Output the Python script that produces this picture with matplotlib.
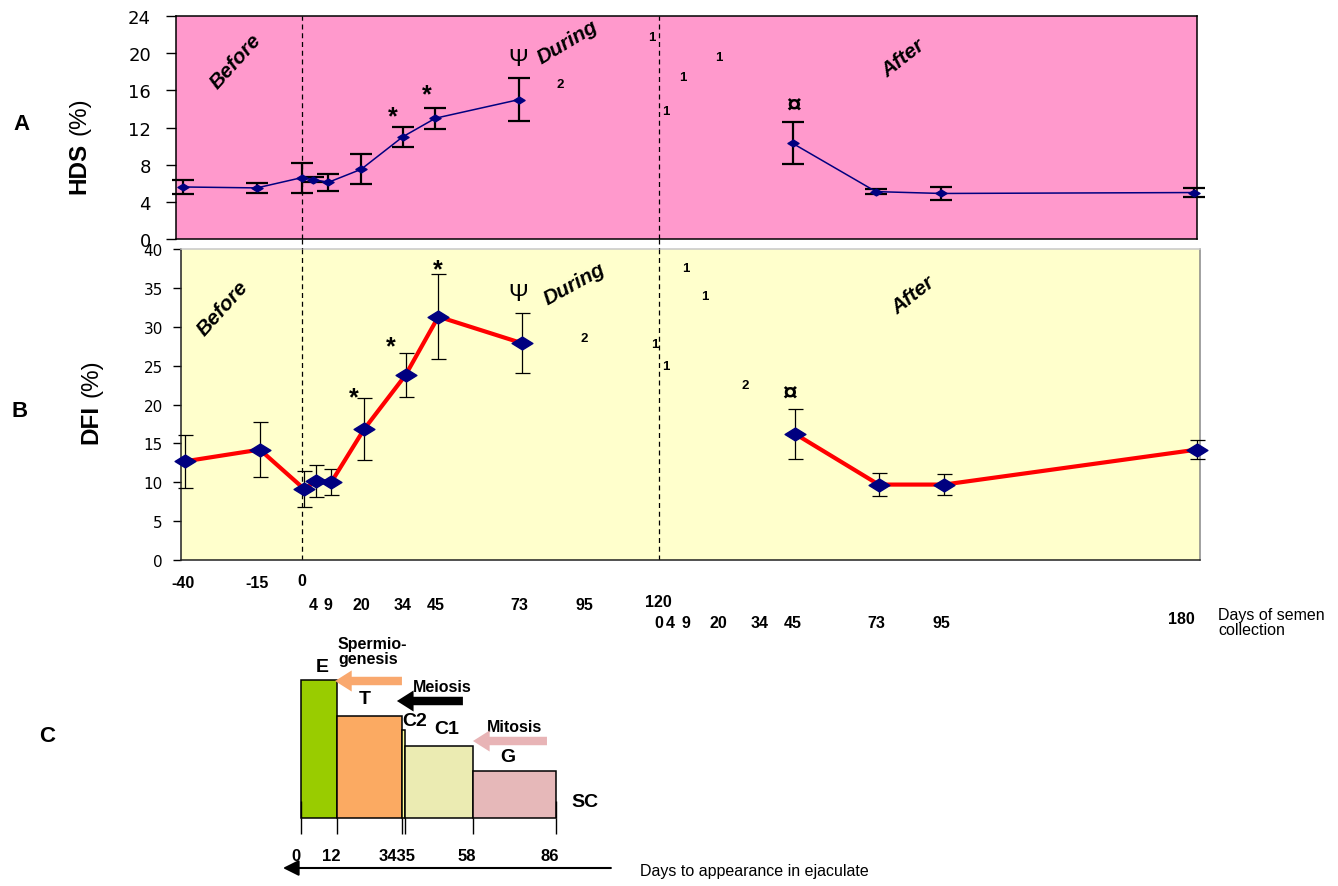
import matplotlib
matplotlib.use("Agg")
import matplotlib.pyplot as plt
import matplotlib.transforms as mtransforms
from matplotlib.path import Path
from matplotlib.lines import Line2D

plt.rcParams["font.family"] = ["Liberation Sans", "DejaVu Sans"]

# ---------------------------------------------------------------- data
TREAT_END = 120                      # last day of treatment = day 0 "after"

before_days = [-40, -15]
during_days = [0, 4, 9, 20, 34, 45, 73]
after_days = [45, 73, 95, 180]

hds_before = [5.6, 5.5]
hds_before_err = [0.75, 0.5]
hds_during = [6.6, 6.4, 6.1, 7.5, 11.0, 13.0, 15.0]
hds_during_err = [1.6, 0.3, 0.9, 1.6, 1.1, 1.15, 2.3]
hds_after = [10.3, 5.1, 4.9, 5.0]
hds_after_err = [2.25, 0.3, 0.65, 0.5]

dfi_before = [12.7, 14.2]
dfi_before_err = [3.4, 3.5]
dfi_during = [9.1, 10.2, 10.0, 16.8, 23.8, 31.3, 27.9]
dfi_during_err = [2.3, 2.05, 1.7, 4.0, 2.85, 5.5, 3.9]
dfi_after = [16.2, 9.7, 9.7, 14.2]
dfi_after_err = [3.2, 1.5, 1.4, 1.2]

row1_days = [-40, -15, 0]
row2_days = [4, 9, 20, 34, 45, 73, 95, 120]
row3_days = [0, 4, 9, 20, 34, 45, 73, 95]
last_day = 180

stage_names = ["E", "T", "C2", "C1", "G"]
stage_bounds = [0, 12, 34, 35, 58, 86]
stage_heights = [138, 102, 88, 72, 47]
stage_colors = ["#99CC00", "#FBAA62", "#FFFF99", "#EBEBB2", "#E6B8B9"]
stage_tick_labels = ["0", "12", "3435", "58", "86"]
stage_tick_pos = [0, 12, 34.5, 58, 86]

# ---------------------------------------------------------------- layout helpers
W, H = 1338, 887
fig = plt.figure(figsize=(W / 100, H / 100), dpi=100)


def fbox(l, t, r, b):
    return [l / W, 1 - b / H, (r - l) / W, (b - t) / H]


def fy(py):
    return 1 - py / H


diamond = Path([(-1, 0), (0, 0.62), (1, 0), (0, -0.62), (-1, 0)],
               [Path.MOVETO, Path.LINETO, Path.LINETO, Path.LINETO, Path.CLOSEPOLY])

x_pre = before_days + during_days
x_post = [TREAT_END + d for d in after_days]

NAVY = "#000080"


def draw_series(ax, x, y, err, line_color, lw, ms, capsize, elw):
    cont = ax.errorbar(x, y, yerr=err, fmt="none", ecolor="black",
                       elinewidth=elw, capsize=capsize, capthick=elw, zorder=3)
    for art in list(cont.lines[1]) + list(cont.lines[2]):
        art.set_clip_on(False)
    ax.plot(x, y, color=line_color, lw=lw, zorder=4, clip_on=False,
            solid_joinstyle="round")
    ax.plot(x, y, ls="none", marker=diamond, ms=ms, mfc=NAVY, mec=NAVY,
            zorder=5, clip_on=False)


# ---------------------------------------------------------------- panel A : HDS
axA = fig.add_axes(fbox(176, 17, 1197, 240))
axA.set_facecolor("#FF99CC")
axA.set_xlim(-42.2, 300.9)
axA.set_ylim(0, 24)
axA.set_yticks(range(0, 25, 4))
axA.set_xticks([])
axA.tick_params(axis="y", direction="out", length=7, width=1, pad=11,
                labelsize=13)
for tl in axA.get_yticklabels():
    tl.set_fontfamily(["DejaVu Sans"])
for s in axA.spines.values():
    s.set_color("black")
    s.set_linewidth(1.1)

draw_series(axA, x_pre, hds_before + hds_during, hds_before_err + hds_during_err,
            NAVY, 1.1, 8, 8, 1.6)
draw_series(axA, x_post, hds_after, hds_after_err, NAVY, 1.1, 8, 8, 1.6)

# ---------------------------------------------------------------- panel B : DFI
axB = fig.add_axes(fbox(181, 250, 1200, 561))
axB.set_facecolor("#FFFFCC")
axB.set_xlim(-41.5, 301.0)
axB.set_ylim(0, 40)
axB.set_yticks(range(0, 41, 5))
axB.set_xticks([])
axB.tick_params(axis="y", direction="out", length=6, width=1, pad=7,
                labelsize=11)
for tl in axB.get_yticklabels():
    tl.set_fontfamily(["DejaVu Sans"])
axB.spines["left"].set_color("#222222")
axB.spines["bottom"].set_color("#222222")
axB.spines["top"].set_color("#C8C8C8")
axB.spines["right"].set_color("#888888")
for s in axB.spines.values():
    s.set_linewidth(1.1)

draw_series(axB, x_pre, dfi_before + dfi_during, dfi_before_err + dfi_during_err,
            "#FF0000", 3.0, 15, 5.4, 0.9)
draw_series(axB, x_post, dfi_after, dfi_after_err, "#FF0000", 3.0, 15, 5.4, 0.9)

# ---------------------------------------------------------------- period separators
for day in (0, TREAT_END):
    for ax in (axA, axB):
        tr = mtransforms.blended_transform_factory(axA.transData, ax.transAxes)
        ax.add_line(Line2D([day, day], [0, 1], transform=tr, color="black",
                           lw=0.9, ls=(0, (4, 3)), zorder=2))
    trf = mtransforms.blended_transform_factory(axA.transData, fig.transFigure)
    fig.add_artist(Line2D([day, day], [fy(240), fy(250)], transform=trf,
                          color="black", lw=0.9, ls=(0, (4, 3))))

# ---------------------------------------------------------------- annotations
period_font = dict(fontsize=15, fontweight="bold", fontstyle="italic",
                   ha="center", va="center")
star_font = dict(fontsize=18, fontweight="bold", ha="center", va="center")
mark_font = dict(fontsize=19, fontweight="bold", ha="center", va="center")
small_font = dict(fontsize=9.5, fontweight="bold", ha="center", va="center")

axA.text(-22.0, 19.2, "Before", rotation=48, **period_font)
axA.text(89.5, 21.2, "During", rotation=31, **period_font)
axA.text(202.2, 19.5, "After", rotation=38, **period_font)
axA.text(72.7, 19.4, "Ψ", fontsize=17, ha="center", va="center")
axA.text(165.5, 14.4, "¤", **mark_font)
for (xx, yy) in [(30.7, 13.2), (42.0, 15.6)]:
    axA.text(xx, yy, "*", **star_font)
for (xx, yy, s) in [(117.8, 21.7, "1"), (86.9, 16.7, "2"), (128.2, 17.4, "1"),
                    (140.3, 19.6, "1"), (122.5, 13.8, "1")]:
    axA.text(xx, yy, s, **small_font)

axB.text(-27.4, 32.4, "Before", rotation=48, **period_font)
axB.text(90.9, 35.6, "During", rotation=29, **period_font)
axB.text(204.5, 34.1, "After", rotation=38, **period_font)
axB.text(71.8, 34.2, "Ψ", fontsize=17, ha="center", va="center")
axB.text(163.0, 21.4, "¤", **mark_font)
for (xx, yy) in [(44.7, 37.4), (29.1, 27.5), (16.6, 20.9)]:
    axB.text(xx, yy, "*", **star_font)
for (xx, yy, s) in [(93.9, 28.6, "2"), (128.2, 37.6, "1"), (134.6, 34.0, "1"),
                    (117.6, 27.8, "1"), (121.6, 25.0, "1"), (148.0, 22.5, "2")]:
    axB.text(xx, yy, s, **small_font)

# ---------------------------------------------------------------- axis titles / panel letters
fig.text(79 / W, fy(168), "HDS", rotation=90, fontsize=17.5, fontweight="bold",
         ha="center", va="center")
fig.text(79 / W, fy(116), "(%)", rotation=90, fontsize=17.5,
         ha="center", va="center")
fig.text(91 / W, fy(424), "DFI", rotation=90, fontsize=17.5, fontweight="bold",
         ha="center", va="center")
fig.text(91 / W, fy(378), "(%)", rotation=90, fontsize=17.5,
         ha="center", va="center")
for (px, py, s) in [(21, 125, "A"), (20, 412, "B"), (47, 737, "C")]:
    fig.text(px / W, fy(py), s, fontsize=16, fontweight="bold",
             ha="center", va="center")

# ---------------------------------------------------------------- day labels under the panels
tr_days = mtransforms.blended_transform_factory(axA.transData, fig.transFigure)
lab_font = dict(fontsize=11.5, fontweight="bold", va="center", transform=tr_days)
for d in row1_days:
    fig.text(d, fy(581 if d == 0 else 584), str(d), ha="center", **lab_font)
for d in row2_days:
    fig.text(d, fy(603 if d == 120 else 606), str(d), ha="center", **lab_font)
for d in row3_days:
    fig.text(TREAT_END + d, fy(624), str(d), ha="center", **lab_font)
fig.text(TREAT_END + last_day, fy(620), str(last_day), ha="right", **lab_font)
fig.text(1218 / W, fy(623), "Days of semen\ncollection", fontsize=11.5,
         ha="left", va="center", linespacing=1.05)

# ---------------------------------------------------------------- panel C : spermatogenesis schematic
axC = fig.add_axes(fbox(250, 630, 640, 880))
axC.set_xlim(-17.23, 114.53)
axC.set_ylim(-61, 189)
axC.axis("off")

lefts = stage_bounds[:-1]
widths = [b - a for a, b in zip(stage_bounds[:-1], stage_bounds[1:])]
axC.bar(lefts, stage_heights, width=widths, align="edge", color=stage_colors,
        edgecolor="black", linewidth=1.1, zorder=2)
axC.vlines(stage_bounds, -16, 0, color="black", lw=1.0, zorder=1)
axC.vlines([stage_bounds[0], stage_bounds[-1]], 0, 17, color="black", lw=1.0,
           zorder=3)
for pos, s in zip(stage_tick_pos, stage_tick_labels):
    axC.annotate(s, (pos, -38), xytext=(-4, 0), textcoords="offset points",
                 ha="center", va="center", fontsize=12, fontweight="bold")

stage_font = dict(fontsize=14, fontweight="bold", ha="center", va="center")
for (xx, yy, s) in [(7.1, 152, "E"), (21.6, 120, "T"), (38.5, 97, "C2"),
                    (49.3, 90, "C1"), (69.9, 62, "G"), (95.9, 16, "SC")]:
    axC.text(xx, yy, s, **stage_font)

phase_font = dict(fontsize=11.5, fontweight="bold", ha="left", va="center")
axC.text(12.5, 167, "Spermio-\ngenesis", linespacing=1.05, **phase_font)
axC.text(37.8, 132, "Meiosis", **phase_font)
axC.text(62.8, 91, "Mitosis", **phase_font)

fat_arrow = "simple,head_length=0.75,head_width=0.95,tail_width=0.38"
for (x0, x1, yy, col) in [(34.1, 11.5, 137, "#F9A86E"),
                          (54.7, 32.4, 117, "#000000"),
                          (83.1, 58.1, 77, "#E8B4B6")]:
    axC.annotate("", xy=(x1, yy), xytext=(x0, yy),
                 arrowprops=dict(arrowstyle=fat_arrow, mutation_scale=16,
                                 color=col, shrinkA=0, shrinkB=0, lw=0))

axC.annotate("", xy=(-6.1, -50), xytext=(104.7, -50),
             arrowprops=dict(arrowstyle="-|>,head_length=0.6,head_width=0.3",
                             mutation_scale=16, color="black", lw=1.5,
                             shrinkA=0, shrinkB=0))
fig.text(640 / W, fy(872), "Days to appearance in ejaculate", fontsize=11.5,
         ha="left", va="center")

fig.savefig("out.png", dpi=100)
